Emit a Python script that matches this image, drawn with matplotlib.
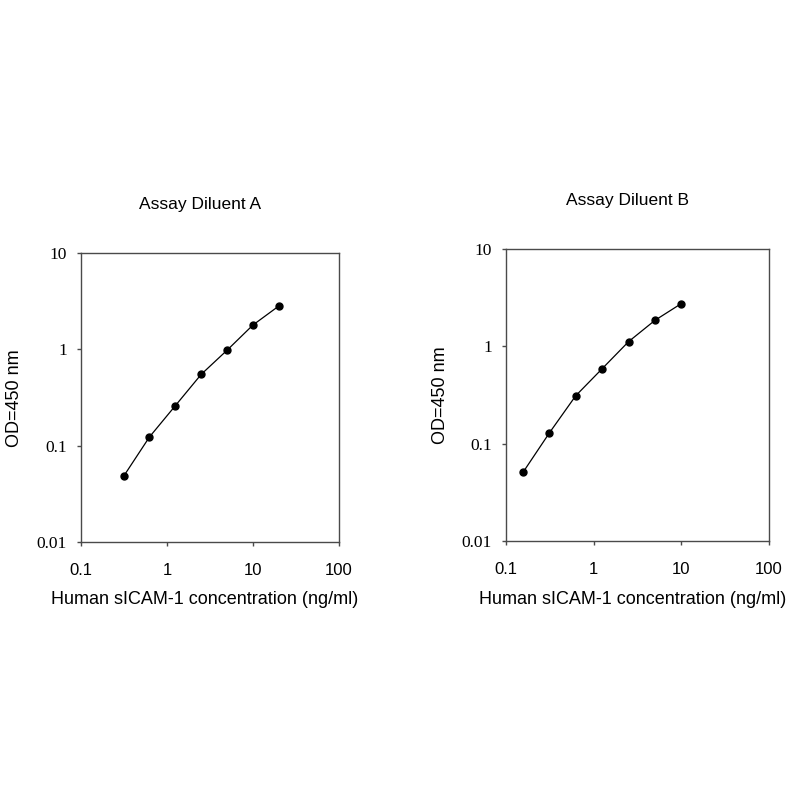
import matplotlib
matplotlib.use("Agg")
import matplotlib.pyplot as plt
from matplotlib.ticker import FixedLocator, FixedFormatter, NullLocator

conc_a = [0.3125, 0.625, 1.25, 2.5, 5, 10, 20]
od_a = [0.048, 0.123, 0.26, 0.55, 0.98, 1.79, 2.82]
conc_b = [0.156, 0.3125, 0.625, 1.25, 2.5, 5, 10]
od_b = [0.0506, 0.129, 0.311, 0.589, 1.117, 1.85, 2.75]
titles = ["Assay Diluent A", "Assay Diluent B"]
x_ticks = [0.1, 1, 10, 100]
x_labels = ["0.1", "1", "10", "100"]
y_ticks = [0.01, 0.1, 1, 10]
y_labels = ["0.01", "0.1", "1", "10"]
xlabel = "Human sICAM-1 concentration (ng/ml)"
ylabel = "OD=450 nm"

W = H = 800
fig = plt.figure(figsize=(8, 8), dpi=100)
# axes boxes in pixels: left, top, right, bottom
boxes = [(81, 253, 339, 542), (506, 249, 769, 541)]
title_pos = [(200, 204), (628, 200)]
xlabel_pos = [(205, 599), (633, 599)]
ylabel_pos = [(15, 398), (440, 395)]
data = [(conc_a, od_a), (conc_b, od_b)]
spine_col = "#4a4a4a"
sans = "Liberation Sans"
serif = "Liberation Serif"
for i, ((l, t, r, b), (x, y), title) in enumerate(zip(boxes, data, titles)):
    ax = fig.add_axes([l / W, 1 - b / H, (r - l) / W, (b - t) / H])
    ax.set_xscale("log")
    ax.set_yscale("log")
    ax.set_xlim(0.1, 100)
    ax.set_ylim(0.01, 10)
    ax.plot(x, y, color="black", lw=0.9, marker="o", ms=5, mfc="black", mec="black")
    ax.xaxis.set_major_locator(FixedLocator(x_ticks))
    ax.xaxis.set_major_formatter(FixedFormatter(x_labels))
    ax.yaxis.set_major_locator(FixedLocator(y_ticks))
    ax.yaxis.set_major_formatter(FixedFormatter(y_labels))
    ax.xaxis.set_minor_locator(NullLocator())
    ax.yaxis.set_minor_locator(NullLocator())
    for s in ax.spines.values():
        s.set_color(spine_col)
        s.set_linewidth(1.0)
    ax.tick_params(axis="both", direction="out", length=3, width=1, color=spine_col)
    ax.tick_params(axis="x", pad=12, labelsize=12, labelfontfamily=sans)
    ax.tick_params(axis="y", pad=7, labelsize=12.5, labelfontfamily=serif)
    fig.text(xlabel_pos[i][0] / W, 1 - xlabel_pos[i][1] / H, xlabel, fontfamily=sans,
             fontsize=13, ha="center", va="center")
    fig.text(ylabel_pos[i][0] / W, 1 - ylabel_pos[i][1] / H, ylabel, fontfamily=sans,
             fontsize=13, ha="center", va="center", rotation=90)
    fig.text(title_pos[i][0] / W, 1 - title_pos[i][1] / H, title, fontfamily=sans,
             fontsize=12.5, ha="center", va="center")

fig.savefig("out.png", dpi=100, facecolor="white")
